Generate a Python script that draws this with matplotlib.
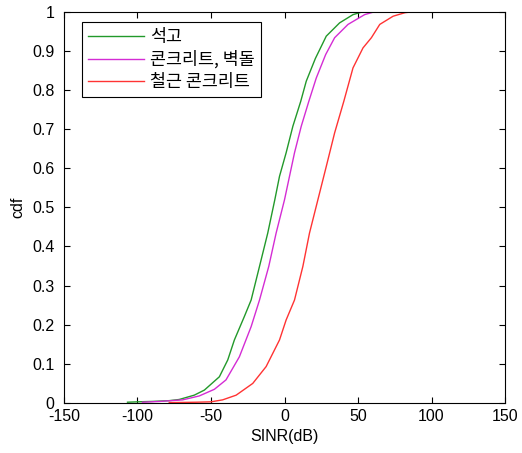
import matplotlib
matplotlib.use("Agg")
import matplotlib.pyplot as plt

labels = ["석고", "콘크리트, 벽돌", "철근 콘크리트"]
colors = ["#22992a", "#d42cd4", "#ff3333"]

x_gyp = [-106.8, -100, -90, -78.4, -71.6, -61.4, -54.5, -44.3, -38.6, -34.1, -27.3, -22.7,
         -17.0, -11.4, -6.6, -3.4, 1.1, 5.7, 11.0, 14.8, 21, 28.4, 37.5, 46.6, 52, 58]
y_gyp = [0.002, 0.003, 0.004, 0.006, 0.009, 0.020, 0.033, 0.067, 0.110, 0.161, 0.221, 0.263,
         0.349, 0.434, 0.519, 0.579, 0.639, 0.707, 0.770, 0.822, 0.88, 0.937, 0.971, 0.992, 0.998, 1.0]

x_con = [-96.6, -85, -69.3, -58, -47.7, -39.8, -30.7, -22.7, -17.0, -10.7, -5.7, 0, 3.4,
         6.8, 11.4, 16.5, 21.6, 28, 34.1, 43.2, 54.5, 60, 66.8]
y_con = [0.002, 0.004, 0.008, 0.018, 0.035, 0.059, 0.118, 0.195, 0.263, 0.349, 0.434, 0.519, 0.579,
         0.639, 0.707, 0.770, 0.830, 0.89, 0.933, 0.967, 0.992, 0.998, 1.0]

x_rc = [-78.4, -60, -50, -42.1, -32.9, -21.6, -12.5, -3.4, 1.1, 6.8, 12.5, 17.0, 22.7,
        28.4, 34.1, 40.3, 46.6, 53.4, 59.1, 64.8, 73.9, 82, 88.6]
y_rc = [0.001, 0.002, 0.003, 0.008, 0.020, 0.050, 0.093, 0.161, 0.212, 0.263, 0.349, 0.434, 0.519,
        0.604, 0.690, 0.770, 0.856, 0.907, 0.933, 0.967, 0.988, 0.997, 1.0]

xticks = [-150, -100, -50, 0, 50, 100, 150]
yticks = [0, 0.1, 0.2, 0.3, 0.4, 0.5, 0.6, 0.7, 0.8, 0.9, 1]
ytick_labels = ["0", "0.1", "0.2", "0.3", "0.4", "0.5", "0.6", "0.7", "0.8", "0.9", "1"]

plt.rcParams['font.family'] = ['Liberation Sans', 'Noto Sans CJK KR', 'DejaVu Sans']
plt.rcParams['axes.unicode_minus'] = False

fig = plt.figure(figsize=(5.22, 4.53), dpi=100)
ax = fig.add_axes([64/522, 50/453, 441/522, 391.5/453])

for xs, ys, c, lab in zip([x_gyp, x_con, x_rc], [y_gyp, y_con, y_rc], colors, labels):
    ax.plot(xs, ys, color=c, lw=1.0, label=lab)

ax.set_xlim(-150, 150)
ax.set_ylim(0, 1)
ax.set_xticks(xticks)
ax.set_yticks(yticks)
ax.set_yticklabels(ytick_labels)
ax.tick_params(direction='in', top=True, right=True, labelsize=11.5, length=4, width=0.8)
ax.tick_params(axis='x', pad=4)
ax.tick_params(axis='y', pad=7)
for s in ax.spines.values():
    s.set_linewidth(0.8)
ax.set_xlabel("SINR(dB)", fontsize=11.5, labelpad=4)
ax.set_ylabel("cdf", fontsize=11.5, labelpad=5)

leg = ax.legend(loc='upper left', bbox_to_anchor=(18/441, 1 - 10.5/391.5), borderaxespad=0,
                fancybox=False, shadow=False, framealpha=1, edgecolor='black',
                prop={'family': ['Noto Sans CJK KR', 'DejaVu Sans'], 'size': 12.5},
                handlelength=3.2, handletextpad=0.35, labelspacing=0.25, borderpad=0.35)
leg.get_frame().set_linewidth(0.8)

fig.savefig("out.png", dpi=100)
